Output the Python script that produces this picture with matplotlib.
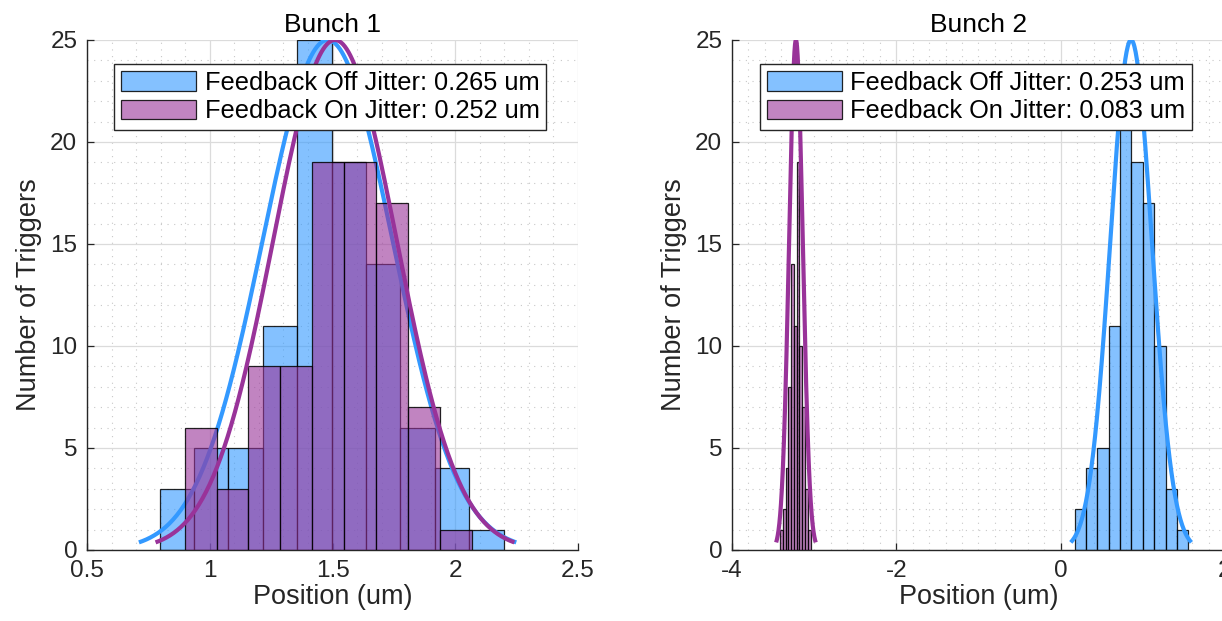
import numpy as np
import matplotlib.pyplot as plt
from matplotlib.ticker import MultipleLocator, FormatStrFormatter

plt.rcParams['font.family'] = ['Liberation Sans', 'DejaVu Sans']

# histogram data: first bin edge, bin width, counts per bin
b1_off_start, b1_off_width = 0.796, 0.1401
b1_off_counts = [3, 5, 5, 11, 25, 19, 14, 6, 4, 1]
b1_on_start, b1_on_width = 0.898, 0.1298
b1_on_counts = [6, 3, 9, 9, 19, 19, 17, 7, 1]

b2_off_start, b2_off_width = 0.170, 0.1383
b2_off_counts = [2, 4, 5, 11, 22, 19, 17, 10, 3, 1]
b2_on_start, b2_on_width = -3.416, 0.0339
b2_on_counts = [1, 2, 4, 8, 14, 11, 19, 10, 7, 3, 1]

# gaussian fits: mean, jitter (sigma)
b1_off_mu, b1_off_sig = 1.48, 0.265
b1_on_mu, b1_on_sig = 1.51, 0.252
b2_off_mu, b2_off_sig = 0.857, 0.253
b2_on_mu, b2_on_sig = -3.222, 0.083
fit_peak = 25

blue = (0.2, 0.6, 1.0)
purple = (0.6, 0.2, 0.6)
txt = '#262626'


def histfit(ax, start, width, counts, mu, sig, color, label, z):
    counts = np.array(counts)
    left = start + width * np.arange(len(counts))
    ax.bar(left, counts, width=width, align='edge', color=color + (0.6,),
           edgecolor=(0, 0, 0, 0.85), linewidth=0.9, label=label, zorder=z)
    x = np.linspace(mu - 2.9 * sig, mu + 2.9 * sig, 200)
    y = fit_peak * np.exp(-0.5 * ((x - mu) / sig) ** 2)
    ax.plot(x, y, color=color, lw=3.0, zorder=z + 0.5, solid_capstyle='butt')


def style(ax, title, xlim, xticks, xminor):
    ax.set_xlim(*xlim)
    ax.set_ylim(0, 25)
    ax.set_xticks(xticks)
    ax.xaxis.set_major_formatter(FormatStrFormatter('%g'))
    ax.set_yticks([0, 5, 10, 15, 20, 25])
    ax.xaxis.set_minor_locator(MultipleLocator(xminor))
    ax.yaxis.set_minor_locator(MultipleLocator(1))
    ax.set_axisbelow(True)
    ax.grid(which='major', color=(0.86, 0.86, 0.86), lw=0.9)
    ax.grid(which='minor', color=(0.78, 0.78, 0.78), lw=0.8, linestyle=(0, (1, 5)))
    for s in ['top', 'right']:
        ax.spines[s].set_visible(False)
    for s in ['left', 'bottom']:
        ax.spines[s].set_color(txt)
        ax.spines[s].set_linewidth(1.0)
    ax.tick_params(which='major', direction='in', length=5, width=0.9,
                   color=txt, labelcolor=txt, labelsize=17.5, pad=7)
    ax.tick_params(which='minor', length=0)
    ax.set_title(title, fontsize=19, color='black', pad=6)
    ax.set_xlabel('Position (um)', fontsize=19.5, color=txt, labelpad=2)
    ax.set_ylabel('Number of Triggers', fontsize=19.5, color=txt, labelpad=6)
    leg = ax.legend(loc='upper center', bbox_to_anchor=(0.495, 0.952),
                    fontsize=18.3, handlelength=2.95, handleheight=0.8,
                    handletextpad=0.35, labelspacing=0.18, borderpad=0.25,
                    borderaxespad=0, fancybox=False, framealpha=1)
    leg.get_frame().set_edgecolor(txt)
    leg.get_frame().set_linewidth(1.0)
    leg.set_zorder(20)


fig = plt.figure(figsize=(12.22, 6.21), dpi=100)
ax1 = fig.add_axes([87 / 1222, 71 / 621, 491 / 1222, 510 / 621])
ax2 = fig.add_axes([732 / 1222, 71 / 621, 493 / 1222, 510 / 621])

histfit(ax1, b1_off_start, b1_off_width, b1_off_counts, b1_off_mu, b1_off_sig,
        blue, 'Feedback Off Jitter: %.3f um' % b1_off_sig, 2)
histfit(ax1, b1_on_start, b1_on_width, b1_on_counts, b1_on_mu, b1_on_sig,
        purple, 'Feedback On Jitter: %.3f um' % b1_on_sig, 4)
style(ax1, 'Bunch 1', (0.5, 2.5), [0.5, 1, 1.5, 2, 2.5], 0.1)

histfit(ax2, b2_off_start, b2_off_width, b2_off_counts, b2_off_mu, b2_off_sig,
        blue, 'Feedback Off Jitter: %.3f um' % b2_off_sig, 2)
histfit(ax2, b2_on_start, b2_on_width, b2_on_counts, b2_on_mu, b2_on_sig,
        purple, 'Feedback On Jitter: %.3f um' % b2_on_sig, 4)
style(ax2, 'Bunch 2', (-4, 2), [-4, -2, 0, 2], 0.2)

fig.savefig('out.png', dpi=100)
